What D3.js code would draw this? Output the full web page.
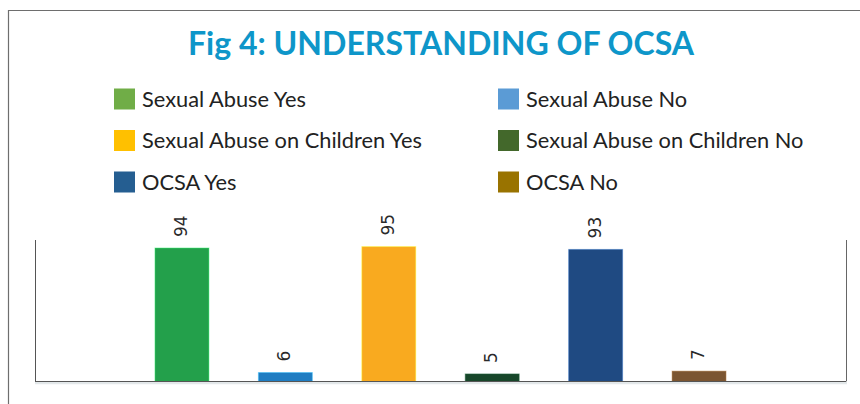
<!DOCTYPE html>
<html>
<head>
<meta charset="utf-8">
<script src="https://cdn.jsdelivr.net/npm/d3@7"></script>
<style>
  html, body { margin: 0; padding: 0; background: #fff; }
  svg { display: block; }
</style>
</head>
<body>
<svg id="chart" width="860" height="404"></svg>
<script>
// Survey responses (percent) for the six answer groups
const series = [
  "Sexual Abuse Yes",
  "Sexual Abuse No",
  "Sexual Abuse on Children Yes",
  "Sexual Abuse on Children No",
  "OCSA Yes",
  "OCSA No"
];
const values = [94, 6, 95, 5, 93, 7];
const barColors = ["#23a04b", "#1f7dc2", "#f9aa1f", "#17462a", "#1f4a82", "#7b5531"];
const legendColors = ["#70ad47", "#5b9bd5", "#ffc000", "#43682b", "#255e91", "#997300"];
const titleText = "Fig 4: UNDERSTANDING OF OCSA";

const svg = d3.select("#chart");

// outer frame (top and left edges visible)
svg.append("path")
  .attr("d", "M8.5,404 V10.5 H860")
  .attr("fill", "none")
  .attr("stroke", "#6e6e6e")
  .attr("stroke-width", 1.2);

// title
svg.append("text")
  .attr("x", 441)
  .attr("y", 55)
  .attr("text-anchor", "middle")
  .attr("font-family", "Lato, 'Open Sans', sans-serif")
  .attr("font-weight", "bold")
  .attr("font-size", 32)
  .attr("fill", "#0e96c9")
  .attr("textLength", 506)
  .attr("lengthAdjust", "spacingAndGlyphs")
  .text(titleText);

// legend: two columns, three rows
const legendCol = d3.scaleOrdinal().domain([0, 1]).range([114, 498]);
const legendRow = d3.scalePoint().domain([0, 1, 2]).range([99, 182]);
const legend = svg.append("g").selectAll("g")
  .data(series)
  .join("g")
  .attr("transform", (d, i) => `translate(${legendCol(i % 2)},${legendRow(Math.floor(i / 2))})`);
legend.append("rect")
  .attr("x", 0).attr("y", -10.5)
  .attr("width", 21).attr("height", 21)
  .attr("fill", (d, i) => legendColors[i]);
legend.append("text")
  .attr("x", 28)
  .attr("y", 0)
  .attr("dy", "0.35em")
  .attr("font-family", "Lato, 'Open Sans', sans-serif")
  .attr("font-size", 21.8)
  .attr("fill", "#222")
  .text(d => d);

// plot area
const plot = { left: 35, right: 846, top: 239.5, bottom: 381 };

const x = d3.scaleBand()
  .domain(series)
  .range([plot.left, plot.right])
  .paddingInner(0.478)
  .paddingOuter(1.16);

const y = d3.scaleLinear()
  .domain([0, 100])
  .range([plot.bottom, plot.top]);

// bars
svg.append("g").selectAll("rect")
  .data(values)
  .join("rect")
  .attr("x", (d, i) => x(series[i]))
  .attr("y", d => y(d))
  .attr("width", x.bandwidth())
  .attr("height", d => y(0) - y(d) + 1)
  .attr("fill", (d, i) => barColors[i])
  .attr("stroke", (d, i) => d3.color(barColors[i]).brighter(1.2))
  .attr("stroke-opacity", 0.45)
  .attr("stroke-width", 1);

// side axes without ticks
const leftAxis = d3.axisLeft(y).ticks(0).tickSize(0).tickFormat("");
const rightAxis = d3.axisRight(y).ticks(0).tickSize(0).tickFormat("");
svg.append("g").attr("transform", `translate(${plot.left},0)`).call(leftAxis)
  .select(".domain").attr("stroke", "#555");
svg.append("g").attr("transform", `translate(${plot.right},0)`).call(rightAxis)
  .select(".domain").attr("stroke", "#666");

// baseline with a soft shadow beneath it
svg.append("line")
  .attr("x1", plot.left).attr("x2", plot.right + 1)
  .attr("y1", y(0) + 2).attr("y2", y(0) + 2)
  .attr("stroke", "#e3e8ea").attr("stroke-width", 2.5);
svg.append("line")
  .attr("x1", plot.left).attr("x2", plot.right)
  .attr("y1", y(0) + 0.5).attr("y2", y(0) + 0.5)
  .attr("stroke", "#555").attr("stroke-width", 1.2);

// rotated value labels above each bar
svg.append("g").selectAll("text")
  .data(values)
  .join("text")
  .attr("transform", (d, i) => `translate(${x(series[i]) + x.bandwidth() / 2 - 1},${y(d) - 11}) rotate(-90)`)
  .attr("dy", "0.35em")
  .attr("text-anchor", "start")
  .attr("font-family", "'DejaVu Sans', Verdana, sans-serif")
  .attr("font-size", 17)
  .attr("fill", "#2a2a2a")
  .text(d => d);
</script>
</body>
</html>
